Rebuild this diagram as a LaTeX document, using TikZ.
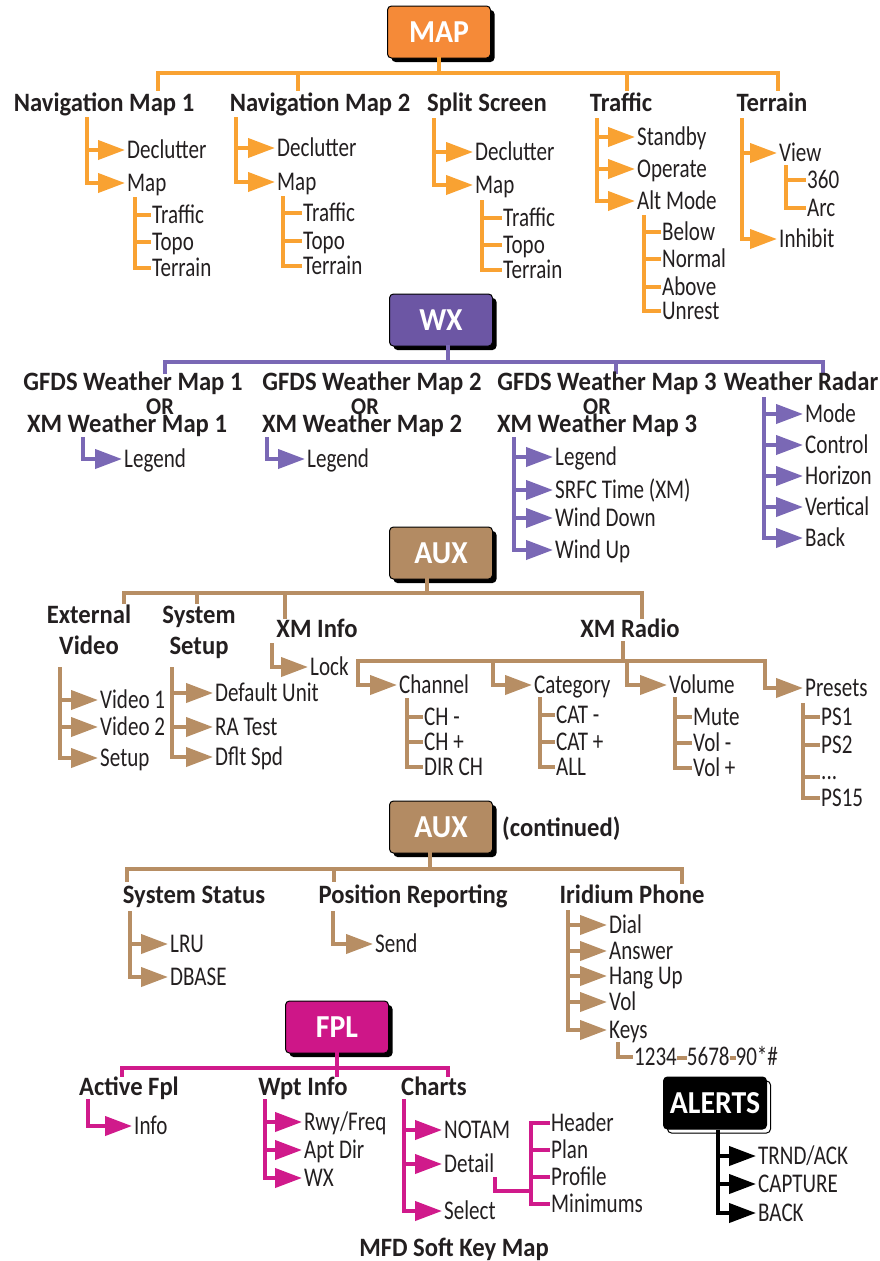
\documentclass[tikz,border=0pt]{standalone}
\usepackage{fontspec}
\setmainfont{Carlito}
\newfontfamily\lfont{Carlito}[FakeStretch=0.78]
\newfontfamily\hfont{Carlito}[FakeStretch=0.93]
\usetikzlibrary{arrows.meta,shadows}
\definecolor{mapf}{HTML}{F58A38}
\definecolor{mapl}{HTML}{F9A232}
\definecolor{wxf}{HTML}{6C56A4}
\definecolor{wxl}{HTML}{7A68B5}
\definecolor{auxf}{HTML}{B38B63}
\definecolor{auxl}{HTML}{B78E64}
\definecolor{fplf}{HTML}{CE1688}
\definecolor{fpll}{HTML}{D01A8B}
\definecolor{txt}{HTML}{231F20}
\begin{document}
\begin{tikzpicture}[x=1pt,y=-1pt,
  ln/.style={line width=4pt, line join=miter},
  bus/.style={line width=4pt, line join=miter, line cap=rect},
  arr/.style={line width=4pt, line join=miter, -{Triangle[length=27pt,width=19pt]}},
  lbl/.style={anchor=west, inner xsep=2pt, inner ysep=0pt, text height=19.4pt, text depth=2pt, font=\lfont\fontsize{27}{27}\selectfont, text=txt},
  sub/.style={lbl, inner xsep=1pt},
  hdr/.style={inner sep=0pt, text height=17pt, text depth=0pt, font=\hfont\bfseries\fontsize{26.5}{26.5}\selectfont, text=txt},
  orl/.style={hdr, font=\hfont\bfseries\fontsize{24}{24}\selectfont},
  keybox/.style={draw=black, line width=1pt, rounded corners=4pt, minimum width=103pt, minimum height=52pt, inner sep=0pt, text=white, font=\hfont\bfseries\fontsize{32}{32}\selectfont, drop shadow={shadow xshift=4pt, shadow yshift=-4pt, fill=black, opacity=1}},
  alertbox/.style={keybox, fill=black, drop shadow={shadow xshift=4pt, shadow yshift=-4pt, fill=white, draw=black, line width=1pt, opacity=1}},
]
\useasboundingbox (0,0) rectangle (880,1261);

% ================= MAP =================
\node[keybox, fill=mapf] (map) at (439,32) {MAP};
\node[hdr] (h1) at (104,103) {Navigation Map 1};
\node[hdr] (h2) at (320,103) {Navigation Map 2};
\node[hdr] (h3) at (487,103) {Split Screen};
\node[hdr] (h4) at (621,103) {Traffic};
\node[hdr] (h5) at (772,103) {Terrain};
\draw[bus,mapl] (map.south) -- (map.south |- 0,73);
\draw[bus,mapl] (158,89) -- (158,73) -- (778,73) -- (778,89);
\draw[bus,mapl] (298,73) -- (298,89);
\draw[bus,mapl] (627,73) -- (627,89);

% Nav Map 1
\node[lbl] (a1) at (125,150) {Declutter};
\node[lbl] (a2) at (125,183) {Map};
\draw[arr,mapl] (a1.west -| 87,0) -- (a1.west);
\draw[arr,mapl] (87,117) |- (a2.west);
\node[sub] (a3) at (151,215) {Traffic};
\node[sub] (a4) at (151,242) {Topo};
\node[sub] (a5) at (151,268) {Terrain};
\draw[ln,mapl] (a3.west -| 135,0) -- (a3.west);
\draw[ln,mapl] (a4.west -| 135,0) -- (a4.west);
\draw[ln,mapl] (135,197) |- (a5.west);

% Nav Map 2
\node[lbl] (b1) at (275,148) {Declutter};
\node[lbl] (b2) at (275,182) {Map};
\draw[arr,mapl] (b1.west -| 236,0) -- (b1.west);
\draw[arr,mapl] (236,117) |- (b2.west);
\node[sub] (b3) at (302,213) {Traffic};
\node[sub] (b4) at (302,241) {Topo};
\node[sub] (b5) at (302,266) {Terrain};
\draw[ln,mapl] (b3.west -| 283,0) -- (b3.west);
\draw[ln,mapl] (b4.west -| 283,0) -- (b4.west);
\draw[ln,mapl] (283,196) |- (b5.west);

% Split Screen
\node[lbl] (c1) at (473,152) {Declutter};
\node[lbl] (c2) at (473,185) {Map};
\draw[arr,mapl] (c1.west -| 434,0) -- (c1.west);
\draw[arr,mapl] (434,118) |- (c2.west);
\node[sub] (c3) at (502,218) {Traffic};
\node[sub] (c4) at (502,245) {Topo};
\node[sub] (c5) at (502,270) {Terrain};
\draw[ln,mapl] (c3.west -| 482,0) -- (c3.west);
\draw[ln,mapl] (c4.west -| 482,0) -- (c4.west);
\draw[ln,mapl] (482,200) |- (c5.west);

% Traffic
\node[lbl] (d1) at (635,137) {Standby};
\node[lbl] (d2) at (635,169) {Operate};
\node[lbl] (d3) at (635,201) {Alt Mode};
\draw[arr,mapl] (d1.west -| 597,0) -- (d1.west);
\draw[arr,mapl] (d2.west -| 597,0) -- (d2.west);
\draw[arr,mapl] (597,118) |- (d3.west);
\node[sub] (d4) at (661,232) {Below};
\node[sub] (d5) at (661,259) {Normal};
\node[sub] (d6) at (661,287) {Above};
\node[sub] (d7) at (661,311) {Unrest};
\draw[ln,mapl] (d4.west -| 644,0) -- (d4.west);
\draw[ln,mapl] (d5.west -| 644,0) -- (d5.west);
\draw[ln,mapl] (d6.west -| 644,0) -- (d6.west);
\draw[ln,mapl] (644,215) |- (d7.west);

% Terrain
\node[lbl] (e1) at (777,153) {View};
\node[lbl] (e2) at (777,239) {Inhibit};
\draw[arr,mapl] (e1.west -| 742,0) -- (e1.west);
\draw[arr,mapl] (742,118) |- (e2.west);
\node[sub] (e3) at (806,180) {360};
\node[sub] (e4) at (806,208) {Arc};
\draw[ln,mapl] (e3.west -| 786,0) -- (e3.west);
\draw[ln,mapl] (786,165) |- (e4.west);

% ================= WX =================
\node[keybox, fill=wxf] (wx) at (441,320) {WX};
\draw[bus,wxl] (wx.south -| 448,0) -- (448,362);
\draw[bus,wxl] (165,372) -- (165,362) -- (823,362) -- (823,372);
\draw[bus,wxl] (616,362) -- (616,372);
\node[hdr] (g1) at (133,382) {GFDS Weather Map 1};
\node[orl] (o1) at (160,406) {OR};
\node[hdr] (x1) at (127,424) {XM Weather Map 1};
\node[hdr] (g2) at (372,382) {GFDS Weather Map 2};
\node[orl] (o2) at (365,406) {OR};
\node[hdr] (x2) at (362,424) {XM Weather Map 2};
\node[hdr] (g3) at (607,382) {GFDS Weather Map 3};
\node[orl] (o3) at (597,406) {OR};
\node[hdr] (x3) at (597,424) {XM Weather Map 3};
\node[hdr] (wr) at (801,382) {Weather Radar};

\node[lbl] (f1) at (122,459) {Legend};
\draw[arr,wxl] (83,437) |- (f1.west);
\node[lbl] (f2) at (305,459) {Legend};
\draw[arr,wxl] (267,437) |- (f2.west);

\node[lbl] (f3) at (553,457) {Legend};
\node[lbl] (f4) at (553,490) {SRFC Time (XM)};
\node[lbl] (f5) at (553,518) {Wind Down};
\node[lbl] (f6) at (553,550) {Wind Up};
\draw[arr,wxl] (f3.west -| 514,0) -- (f3.west);
\draw[arr,wxl] (f4.west -| 514,0) -- (f4.west);
\draw[arr,wxl] (f5.west -| 514,0) -- (f5.west);
\draw[arr,wxl] (514,437) |- (f6.west);

\node[lbl] (r1) at (803,414) {Mode};
\node[lbl] (r2) at (803,445) {Control};
\node[lbl] (r3) at (803,476) {Horizon};
\node[lbl] (r4) at (803,507) {Vertical};
\node[lbl] (r5) at (803,538) {Back};
\draw[arr,wxl] (r1.west -| 764,0) -- (r1.west);
\draw[arr,wxl] (r2.west -| 764,0) -- (r2.west);
\draw[arr,wxl] (r3.west -| 764,0) -- (r3.west);
\draw[arr,wxl] (r4.west -| 764,0) -- (r4.west);
\draw[arr,wxl] (764,397) |- (r5.west);

% ================= AUX =================
\node[keybox, fill=auxf] (aux) at (441,553) {AUX};
\draw[bus,auxl] (aux.south -| 427,0) -- (427,593);
\draw[bus,auxl] (124,602) -- (124,593) -- (642,593) -- (642,617);
\draw[bus,auxl] (197,593) -- (197,602);
\draw[bus,auxl] (285,593) -- (285,617);
\node[hdr] (ev1) at (89,615) {External};
\node[hdr] (ev2) at (89,646) {Video};
\node[hdr] (ss1) at (199,615) {System};
\node[hdr] (ss2) at (199,646) {Setup};
\node[hdr] (xi) at (317,629) {XM Info};
\node[hdr] (xr) at (630,629) {XM Radio};

\node[lbl] (v1) at (98,700) {Video 1};
\node[lbl] (v2) at (98,727) {Video 2};
\node[lbl] (v3) at (98,758) {Setup};
\draw[arr,auxl] (v1.west -| 60,0) -- (v1.west);
\draw[arr,auxl] (v2.west -| 60,0) -- (v2.west);
\draw[arr,auxl] (60,667) |- (v3.west);

\node[lbl] (s1) at (213,693) {Default Unit};
\node[lbl] (s2) at (213,727) {RA Test};
\node[lbl] (s3) at (213,757) {Dflt Spd};
\draw[arr,auxl] (s1.west -| 172,0) -- (s1.west);
\draw[arr,auxl] (s2.west -| 172,0) -- (s2.west);
\draw[arr,auxl] (172,667) |- (s3.west);

\node[lbl] (lk) at (308,667) {Lock};
\draw[arr,auxl] (272,643) |- (lk.west);

\draw[bus,auxl] (623,643) -- (623,661);
\draw[bus,auxl] (358,661) -- (765,661);
\node[lbl] (ch) at (397,685) {Channel};
\node[lbl] (ca) at (532,685) {Category};
\node[lbl] (vo) at (667,685) {Volume};
\node[lbl] (pr) at (803,688) {Presets};
\draw[arr,auxl] (358,661) |- (ch.west);
\draw[arr,auxl] (493,661) |- (ca.west);
\draw[arr,auxl] (627,661) |- (vo.west);
\draw[arr,auxl] (765,661) |- (pr.west);

\node[sub] (ch1) at (423,717) {CH -};
\node[sub] (ch2) at (423,742) {CH +};
\node[sub] (ch3) at (423,767) {DIR CH};
\draw[ln,auxl] (ch1.west -| 407,0) -- (ch1.west);
\draw[ln,auxl] (ch2.west -| 407,0) -- (ch2.west);
\draw[ln,auxl] (407,698) |- (ch3.west);

\node[sub] (ca1) at (555,715) {CAT -};
\node[sub] (ca2) at (555,742) {CAT +};
\node[sub] (ca3) at (555,767) {ALL};
\draw[ln,auxl] (ca1.west -| 540,0) -- (ca1.west);
\draw[ln,auxl] (ca2.west -| 540,0) -- (ca2.west);
\draw[ln,auxl] (540,697) |- (ca3.west);

\node[sub] (vo1) at (692,717) {Mute};
\node[sub] (vo2) at (692,743) {Vol -};
\node[sub] (vo3) at (692,768) {Vol +};
\draw[ln,auxl] (vo1.west -| 675,0) -- (vo1.west);
\draw[ln,auxl] (vo2.west -| 675,0) -- (vo2.west);
\draw[ln,auxl] (675,697) |- (vo3.west);

\node[sub] (p1) at (820,717) {PS1};
\node[sub] (p2) at (820,745) {PS2};
\node[sub] (p3) at (820,771) {...};
\node[sub] (p4) at (820,798) {PS15};
\draw[ln,auxl] (p1.west -| 803,0) -- (p1.west);
\draw[ln,auxl] (p2.west -| 803,0) -- (p2.west);
\draw[ln,auxl] (803,777) -- (p3.west |- 0,777);
\draw[ln,auxl] (803,703) |- (p4.west);

% ================= AUX (continued) =================
\node[keybox, fill=auxf] (aux2) at (441,827) {AUX};
\node[hdr, anchor=west] (cont) at (502,828) {(continued)};
\draw[bus,auxl] (aux2.south -| 430,0) -- (430,869);
\draw[bus,auxl] (127,880) -- (127,869) -- (682,869) -- (682,882);
\draw[bus,auxl] (334,869) -- (334,880);
\node[hdr] (sst) at (194,895) {System Status};
\node[hdr] (prp) at (413,895) {Position Reporting};
\node[hdr] (iph) at (632,895) {Iridium Phone};

\node[lbl] (t1) at (168,944) {LRU};
\node[lbl] (t2) at (168,977) {DBASE};
\draw[arr,auxl] (t1.west -| 130,0) -- (t1.west);
\draw[arr,auxl] (130,911) |- (t2.west);

\node[lbl] (snd) at (373,944) {Send};
\draw[arr,auxl] (333,911) |- (snd.west);

\node[lbl] (i1) at (607,925) {Dial};
\node[lbl] (i2) at (607,951) {Answer};
\node[lbl] (i3) at (607,976) {Hang Up};
\node[lbl] (i4) at (607,1002) {Vol};
\node[lbl] (i5) at (607,1030) {Keys};
\draw[arr,auxl] (i1.west -| 568,0) -- (i1.west);
\draw[arr,auxl] (i2.west -| 568,0) -- (i2.west);
\draw[arr,auxl] (i3.west -| 568,0) -- (i3.west);
\draw[arr,auxl] (i4.west -| 568,0) -- (i4.west);
\draw[arr,auxl] (568,910) |- (i5.west);
\node[sub] (ky) at (633,1057) {1234\textcolor{auxl}{\rule[6pt]{10pt}{4pt}}5678\textcolor{auxl}{\rule[6pt]{6pt}{4pt}}90*\#};
\draw[ln,auxl] (618,1042) |- (ky.west);

% ================= FPL =================
\node[keybox, fill=fplf] (fpl) at (337,1027) {FPL};
\draw[bus,fpll] (fpl.south) -- (fpl.south |- 0,1075);
\draw[bus,fpll] (122,1075) -- (122,1068) -- (448,1068) -- (448,1075);
\node[hdr] (af) at (129,1087) {Active Fpl};
\node[hdr] (wi) at (303,1087) {Wpt Info};
\node[hdr] (chs) at (434,1087) {Charts};

\node[lbl] (inf) at (132,1126) {Info};
\draw[arr,fpll] (88,1099) |- (inf.west);

\node[lbl] (w1) at (302,1122) {Rwy/Freq};
\node[lbl] (w2) at (302,1150) {Apt Dir};
\node[lbl] (w3) at (302,1178) {WX};
\draw[arr,fpll] (w1.west -| 265,0) -- (w1.west);
\draw[arr,fpll] (w2.west -| 265,0) -- (w2.west);
\draw[arr,fpll] (265,1099) |- (w3.west);

\node[lbl] (k1) at (442,1130) {NOTAM};
\node[lbl] (k2) at (442,1164) {Detail};
\node[lbl] (k3) at (442,1211) {Select};
\draw[arr,fpll] (k1.west -| 404,0) -- (k1.west);
\draw[arr,fpll] (k2.west -| 404,0) -- (k2.west);
\draw[arr,fpll] (404,1099) |- (k3.west);

\node[sub] (dt1) at (550,1123) {Header};
\node[sub] (dt2) at (550,1150) {Plan};
\node[sub] (dt3) at (550,1177) {Profile};
\node[sub] (dt4) at (550,1204) {Minimums};
\draw[ln,fpll] (dt1.west) -| (dt4.west -| 531,0) -- (dt4.west);
\draw[ln,fpll] (dt2.west -| 531,0) -- (dt2.west);
\draw[ln,fpll] (dt3.west -| 531,0) -- (dt3.west);
\draw[ln,fpll] (495,1177) |- (531,1191);

% ================= ALERTS =================
\node[alertbox] (al) at (715,1103) {ALERTS};
\node[lbl] (q1) at (756,1156) {TRND/ACK};
\node[lbl] (q2) at (756,1184) {CAPTURE};
\node[lbl] (q3) at (756,1213) {BACK};
\draw[arr,black] (q1.west -| 718,0) -- (q1.west);
\draw[arr,black] (q2.west -| 718,0) -- (q2.west);
\draw[arr,black] (al.south -| 718,0) |- (q3.west);

% ================= Title =================
\node[hdr] (title) at (454,1248) {MFD Soft Key Map};
\end{tikzpicture}
\end{document}
